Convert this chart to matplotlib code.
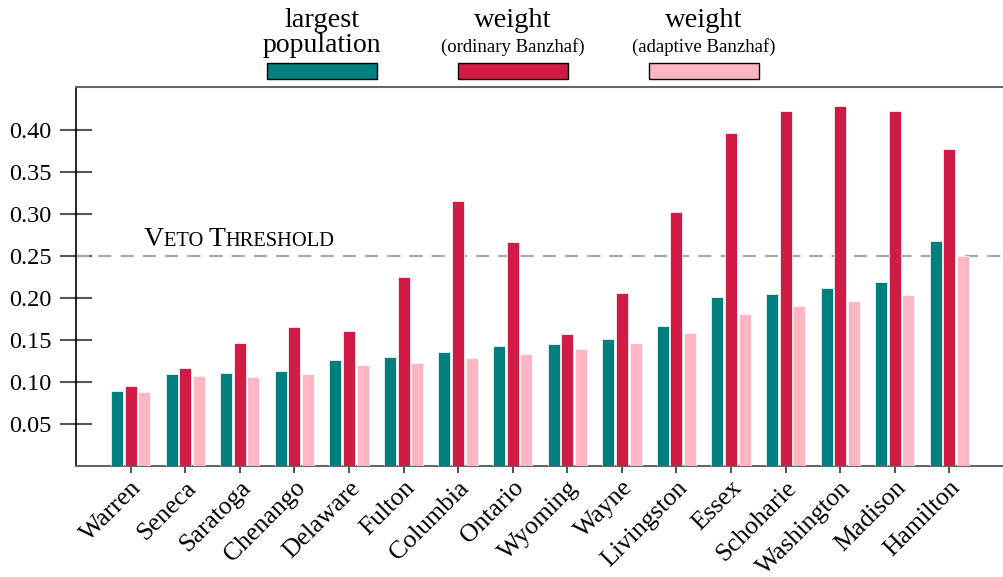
import numpy as np
import matplotlib
matplotlib.use("Agg")
import matplotlib.pyplot as plt
from matplotlib.patches import Rectangle

plt.rcParams['font.family'] = ['Liberation Serif', 'DejaVu Serif']

# data
counties = ["Warren", "Seneca", "Saratoga", "Chenango", "Delaware", "Fulton",
            "Columbia", "Ontario", "Wyoming", "Wayne", "Livingston", "Essex",
            "Schoharie", "Washington", "Madison", "Hamilton"]
largest_pop = [0.089, 0.109, 0.110, 0.113, 0.126, 0.129, 0.136, 0.142,
               0.145, 0.151, 0.166, 0.201, 0.205, 0.212, 0.219, 0.268]
w_ordinary = [0.095, 0.116, 0.146, 0.165, 0.160, 0.225, 0.316, 0.267,
              0.157, 0.206, 0.302, 0.397, 0.423, 0.429, 0.423, 0.377]
w_adaptive = [0.088, 0.107, 0.106, 0.109, 0.120, 0.122, 0.128, 0.133,
              0.139, 0.146, 0.158, 0.181, 0.190, 0.196, 0.203, 0.250]
y_ticks = [0.05, 0.10, 0.15, 0.20, 0.25, 0.30, 0.35, 0.40]
veto = 0.25

c_teal = "#007F7E"
c_red = "#D01C45"
c_pink = "#FFB6C2"

W, H = 1004, 577
fig = plt.figure(figsize=(W / 100, H / 100), dpi=100)
ax = fig.add_axes([76 / W, (H - 465.6) / H, (W - 76) / W, (465.6 - 87.3) / H])

x = np.arange(len(counties))
bw = 0.22
off = 0.25
ax.bar(x - off, largest_pop, bw, color=c_teal, edgecolor="white", linewidth=0.5, zorder=3)
ax.bar(x, w_ordinary, bw, color=c_red, edgecolor="white", linewidth=0.5, zorder=3)
ax.bar(x + off, w_adaptive, bw, color=c_pink, edgecolor="white", linewidth=0.5, zorder=3)

ax.axhline(veto, color="#aaaaaa", lw=1.6, dashes=(6, 4), zorder=2)

ax.set_xlim(-1, 16)
ax.set_ylim(0, 0.451)
ax.set_yticks(y_ticks)
ax.set_yticklabels([f"{v:.2f}" for v in y_ticks], fontsize=17.5)
ax.set_xticks(x)
ax.set_xticklabels(counties, fontsize=18.5, rotation=45, ha="right", va="top",
                   rotation_mode="anchor")

ax.tick_params(axis="y", direction="inout", length=23, width=1.5, color="#555555", pad=6)
ax.tick_params(axis="x", direction="out", length=5, width=1.2, color="#333333", pad=3)

ax.spines["right"].set_visible(False)
ax.spines["left"].set_color("black")
ax.spines["left"].set_linewidth(1.2)
ax.spines["bottom"].set_color("#666666")
ax.spines["bottom"].set_linewidth(1.5)
ax.spines["top"].set_color("#666666")
ax.spines["top"].set_linewidth(1.5)

# "Veto Threshold" in small caps, built from pieces
big, small = 20, 14.8
ty = 0.262
t = ax.text(0.245, ty, "V", fontsize=big, va="baseline", ha="left")
for piece, fs in [("ETO ", small), ("T", big), ("HRESHOLD", small)]:
    t = ax.annotate(piece, xy=(1, ty), xycoords=(t, "data"), fontsize=fs,
                    va="baseline", ha="left")

# legend on top
leg_items = [("largest", "population", c_teal, 322, 20),
             ("weight", "(ordinary Banzhaf)", c_red, 513, 13.5),
             ("weight", "(adaptive Banzhaf)", c_pink, 704, 13.5)]
for top, bottom, col, cx, fs2 in leg_items:
    fig.text(cx / W, 1 - 27 / H, top, fontsize=20.5, ha="center", va="baseline")
    fig.text(cx / W, 1 - 52 / H, bottom, fontsize=fs2, ha="center", va="baseline")
    fig.patches.append(Rectangle(((cx - 55) / W, 1 - 79 / H), 110 / W, 16 / H,
                                 transform=fig.transFigure, facecolor=col,
                                 edgecolor="black", linewidth=1))

fig.savefig("out.png", dpi=100)
